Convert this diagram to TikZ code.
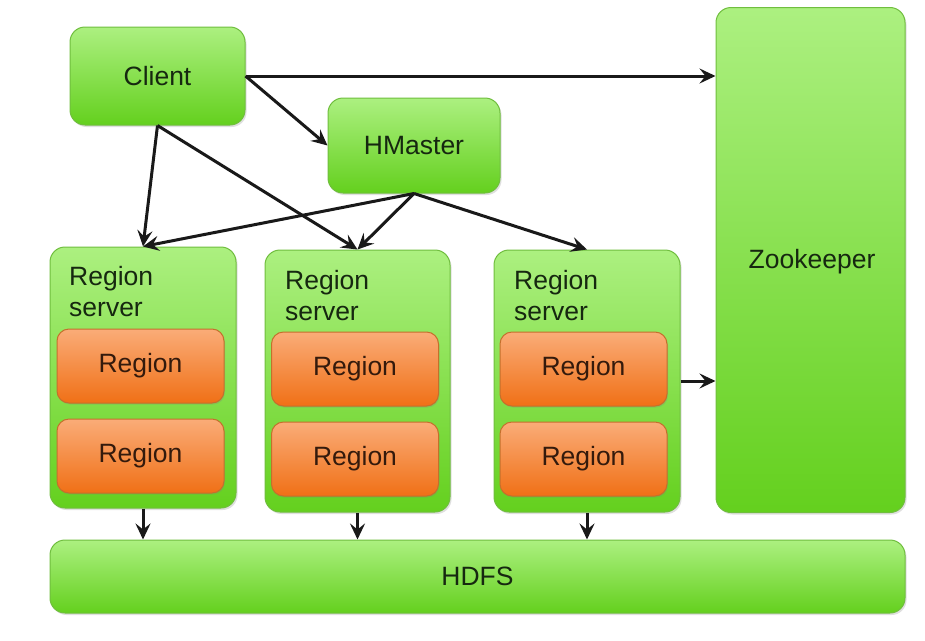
\documentclass[tikz,border=0pt]{standalone}
\usepackage{fontspec}
\setmainfont{Liberation Sans}
\usetikzlibrary{arrows.meta,shadows}
\definecolor{gtop}{RGB}{172,240,128}
\definecolor{gbot}{RGB}{100,208,30}
\definecolor{gline}{RGB}{112,190,62}
\definecolor{otop}{RGB}{250,172,120}
\definecolor{obot}{RGB}{240,112,22}
\definecolor{oline}{RGB}{196,112,44}
\definecolor{gtext}{RGB}{22,40,16}
\definecolor{otext}{RGB}{52,26,12}
\tikzset{
  gbox/.style={draw=gline, line width=1pt, rounded corners=15pt, top color=gtop, bottom color=gbot,
    text=gtext, font=\fontsize{26.5}{30}\selectfont, inner sep=0pt,
    drop shadow={opacity=0.25, shadow xshift=1.5pt, shadow yshift=-2pt}},
  obox/.style={draw=oline, line width=1pt, rounded corners=12pt, top color=otop, bottom color=obot,
    text=otext, font=\fontsize{26.5}{30}\selectfont, inner sep=0pt, minimum width=167pt, minimum height=74pt,
    drop shadow={opacity=0.25, shadow xshift=1pt, shadow yshift=-1.5pt}},
  rslabel/.style={text=gtext, font=\fontsize{26.5}{31}\selectfont, align=left, inner sep=0pt, anchor=north west},
  conn/.style={draw=black!90, line width=3pt, -{Stealth[length=16pt,width=15pt,inset=6pt]}}
}
\begin{document}
\begin{tikzpicture}[x=1pt,y=-1pt]
\useasboundingbox[fill=white] (0,0) rectangle (925,640);
% boxes
\node[gbox, minimum width=175pt, minimum height=98pt] (client) at (157.5,76) {Client};
\node[gbox, minimum width=172pt, minimum height=95pt] (hmaster) at (414,145.5) {HMaster};
\node[gbox, minimum width=189pt, minimum height=505pt, anchor=north] (zk) at (810.5,7) {};
\node[text=gtext, font=\fontsize{26.5}{30}\selectfont, inner sep=0pt] (zklabel) at (812,262) {Zookeeper};
\node[gbox, minimum width=186pt, minimum height=261pt] (rs1) at (143,377.5) {};
\node[gbox, minimum width=185pt, minimum height=262pt] (rs2) at (357.5,381) {};
\node[gbox, minimum width=186pt, minimum height=262pt] (rs3) at (587,381) {};
\node[gbox, minimum width=855pt, minimum height=73pt] (hdfs) at (477.5,576.5) {HDFS};
% labels
\node[rslabel] (rs1l) at (69,266) {Region\\server};
\node[rslabel] (rs2l) at (285,270) {Region\\server};
\node[rslabel] (rs3l) at (514,270) {Region\\server};
% regions
\node[obox] (r11) at (140.5,366) {Region};
\node[obox] (r12) at (140.5,456) {Region};
\node[obox] (r21) at (355,369) {Region};
\node[obox] (r22) at (355,459) {Region};
\node[obox] (r31) at (583.5,369) {Region};
\node[obox] (r32) at (583.5,459) {Region};
% connectors
\draw[conn] (client.east) -- (client.east -| zk.west);
\draw[conn] (client.east) -- (hmaster.west);
\draw[conn] (client.south) -- (rs1.north);
\draw[conn] (client.south) -- (rs2.north);
\draw[conn] (hmaster.south) -- (rs1.north);
\draw[conn] (hmaster.south) -- (rs2.north);
\draw[conn] (hmaster.south) -- (rs3.north);
\draw[conn] (rs3.east) -- (rs3.east -| zk.west);
\draw[conn] (rs1.south) -- (rs1.south |- hdfs.north);
\draw[conn] (rs2.south) -- (rs2.south |- hdfs.north);
\draw[conn] (rs3.south) -- (rs3.south |- hdfs.north);
\end{tikzpicture}
\end{document}
